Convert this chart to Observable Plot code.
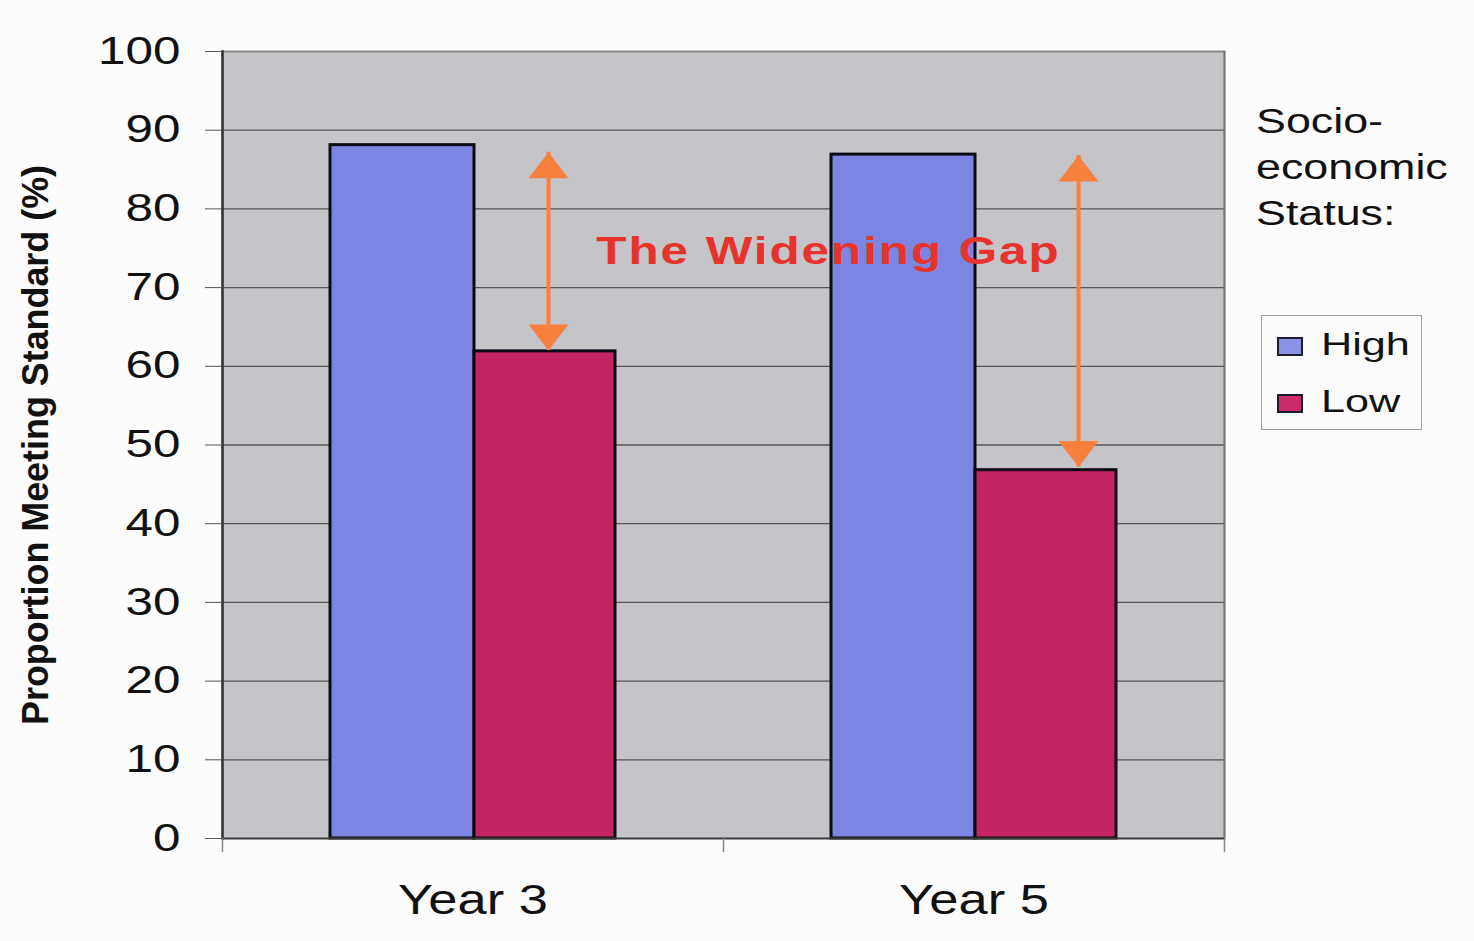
<!DOCTYPE html>
<html>
<head>
<meta charset="utf-8">
<script src="https://cdn.jsdelivr.net/npm/d3@7"></script>
<script src="https://cdn.jsdelivr.net/npm/@observablehq/plot@0.6"></script>
<style>
  body { margin: 0; background: #fcfcfc; font-family: "Liberation Sans", Arial, sans-serif; }
  #wrap { position: relative; width: 1474px; height: 941px; }
  #wrap svg { position: absolute; left: 0; top: 0; background: transparent; }
  .lg-title { position: absolute; left: 1256px; top: 98px; font-size: 35px; line-height: 46px; color: #111;
              transform: scaleX(1.28); transform-origin: left top; white-space: nowrap; }
  .lg-box { position: absolute; left: 1261px; top: 315px; width: 161px; height: 115px; box-sizing: border-box;
            border: 1.5px solid #9c9c9c; background: #fbfbfb; }
  .lg-sw { position: absolute; width: 26px; height: 19px; box-sizing: border-box; border: 2.5px solid #1c1c2c; }
  .lg-tx { position: absolute; font-size: 32px; line-height: 32px; color: #111;
           transform: scaleX(1.35); transform-origin: left top; white-space: nowrap; }
</style>
</head>
<body>
<div id="wrap"></div>
<script>
// ---- data ----
const categories = ["Year 3", "Year 5"];
const groups = ["High", "Low"];
const highValues = [88.1, 86.9];
const lowValues = [61.9, 46.8];
const gapTop = [87.2, 86.8];
const gapBottom = [62.0, 47.2];
const yTicks = [0, 10, 20, 30, 40, 50, 60, 70, 80, 90, 100];
const yLabel = "Proportion Meeting Standard (%)";
const legendTitle = ["Socio-", "economic", "Status:"];
const annotation = "The Widening Gap";
const annotationY = 74.5;

// ---- styles ----
const colors = ["#7c85e1", "#c42461"];
const legendColors = ["#8a91e6", "#cc2d6a"];
const orange = "#f8803e";
const W = 1474, H = 941, ML = 222, MR = 250, MT = 51, MB = 103;
const band = (W - ML - MR) / categories.length;
const arrowDx = [75.5, 104.5];

const data = categories.flatMap((c, i) => [
  {year: c, group: groups[0], value: highValues[i]},
  {year: c, group: groups[1], value: lowValues[i]}
]);
const arrows = categories.map((c, i) => ({year: c, top: gapTop[i], bottom: gapBottom[i]}));

const head = {
  draw(ctx, l) {
    ctx.moveTo(0, -l);
    ctx.lineTo(-20, 0);
    ctx.lineTo(20, 0);
    ctx.closePath();
  }
};

const arrowMarks = arrows.flatMap((a, i) => [
  Plot.ruleX([a], {x: "year", y1: "top", y2: "bottom", dx: arrowDx[i], stroke: orange, strokeWidth: 4}),
  Plot.vector([a], {x: "year", y: "top", dx: arrowDx[i], length: 26, rotate: 0, anchor: "end",
                    shape: head, fill: orange, stroke: "none"}),
  Plot.vector([a], {x: "year", y: "bottom", dx: arrowDx[i], length: 26, rotate: 180, anchor: "end",
                    shape: head, fill: orange, stroke: "none"})
]);

const plot = Plot.plot({
  width: W, height: H,
  marginLeft: ML, marginRight: MR, marginTop: MT, marginBottom: MB,
  style: {fontFamily: '"Liberation Sans", Arial, sans-serif', background: "transparent", color: "#111"},
  x: {domain: categories, padding: 0},
  y: {domain: [0, 100]},
  marks: [
    Plot.frame({fill: "#c5c4c8", stroke: "none"}),
    Plot.ruleY(yTicks.filter(t => t > 0 && t < 100), {stroke: "#555", strokeWidth: 1.3}),
    Plot.ruleY([100], {stroke: "#8a8a8a", strokeWidth: 2}),
    Plot.frame({anchor: "right", stroke: "#777", strokeWidth: 2.2}),
    Plot.barY(data.filter(d => d.group === groups[0]), {
      x: "year", y: "value", fill: colors[0], stroke: "#0a0a14", strokeWidth: 3,
      insetLeft: 108, insetRight: band - 108 - 144
    }),
    Plot.barY(data.filter(d => d.group === groups[1]), {
      x: "year", y: "value", fill: colors[1], stroke: "#0a0a14", strokeWidth: 3,
      insetLeft: 252, insetRight: band - 252 - 141
    }),
    Plot.text([annotation], {
      x: () => categories[1], y: () => annotationY, dx: -145.5, text: d => d,
      fontSize: 38, fontWeight: "bold", fill: "#e8332c"
    }),
    ...arrowMarks,
    Plot.frame({anchor: "left", stroke: "#333", strokeWidth: 2.6}),
    Plot.ruleY([0], {stroke: "#3a3a3a", strokeWidth: 2.2}),
    Plot.ruleX(categories, {x: d => d, dx: -band / 2, y1: 0, y2: -1.8, stroke: "#888", strokeWidth: 1.5}),
    Plot.ruleX([categories[categories.length - 1]], {x: d => d, dx: band / 2, y1: 0, y2: -1.8, stroke: "#888", strokeWidth: 1.5}),
    Plot.axisY(yTicks, {tickSize: 17, tickPadding: 25, fontSize: 38, stroke: "#555", fill: "#111", label: null}),
    Plot.axisX({tickSize: 0, tickPadding: 46, fontSize: 42, fill: "#111", label: null}),
    Plot.text([yLabel], {frameAnchor: "left", rotate: -90, dx: -186, text: d => d, textAnchor: "middle",
                          fontSize: 36, fontWeight: "bold", fill: "#111"})
  ]
});

function stretchEl(t, s) {
  let tr = t.getAttribute("transform");
  if (!tr) {
    const x = t.getAttribute("x") || 0, y = t.getAttribute("y") || 0;
    t.removeAttribute("x"); t.removeAttribute("y");
    tr = `translate(${x},${y})`;
  }
  t.setAttribute("transform", tr + ` scale(${s},1)`);
}
plot.querySelectorAll('g[aria-label="y-axis tick label"] text').forEach(t => stretchEl(t, 1.3));
plot.querySelectorAll('g[aria-label="x-axis tick label"] text').forEach(t => stretchEl(t, 1.25));
plot.querySelectorAll('text').forEach(t => {
  if (t.textContent === annotation) {
    t.setAttribute("letter-spacing", "1.5");
    stretchEl(t, 1.3);
  }
  if (t.textContent === yLabel) {
    t.setAttribute("textLength", "560");
    t.setAttribute("lengthAdjust", "spacingAndGlyphs");
  }
});

const wrap = document.getElementById("wrap");
wrap.appendChild(plot);

// legend (HTML, placed to the right of the plot area)
const title = document.createElement("div");
title.className = "lg-title";
title.innerHTML = legendTitle.join("<br>");
wrap.appendChild(title);
const box = document.createElement("div");
box.className = "lg-box";
wrap.appendChild(box);
groups.forEach((g, i) => {
  const sw = document.createElement("div");
  sw.className = "lg-sw";
  sw.style.left = "1277px";
  sw.style.top = (337 + i * 57) + "px";
  sw.style.background = legendColors[i];
  wrap.appendChild(sw);
  const tx = document.createElement("div");
  tx.className = "lg-tx";
  tx.style.left = "1321px";
  tx.style.top = (328 + i * 57) + "px";
  tx.textContent = g;
  wrap.appendChild(tx);
});
</script>
</body>
</html>
